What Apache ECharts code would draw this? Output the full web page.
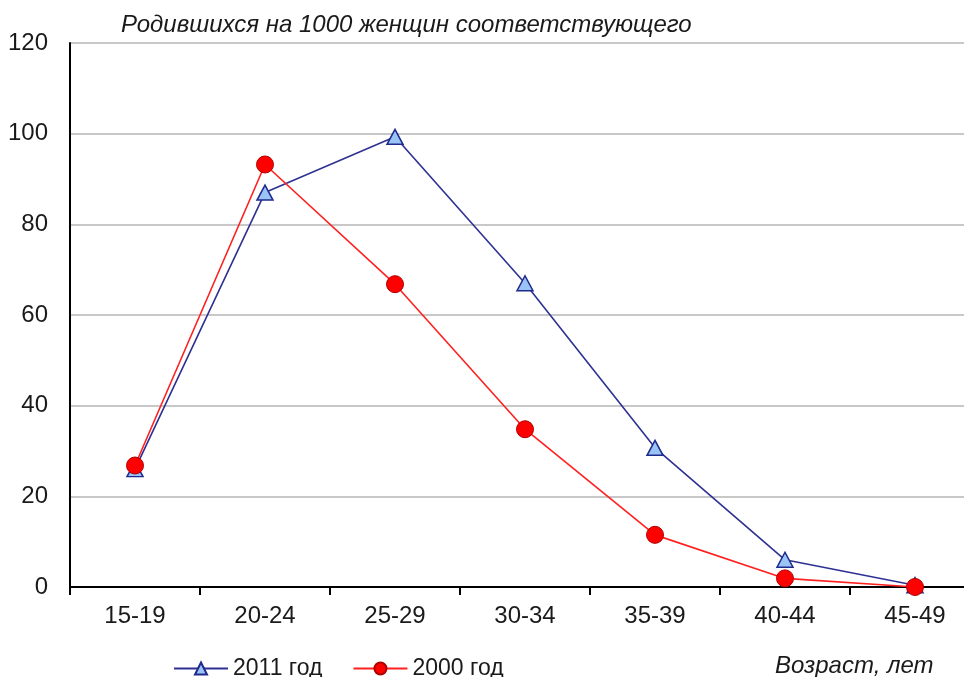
<!DOCTYPE html>
<html>
<head>
<meta charset="utf-8">
<script src="https://cdn.jsdelivr.net/npm/echarts@6/dist/echarts.min.js"></script>
<style>
  html, body { margin: 0; padding: 0; background: #fff; }
  #chart { width: 964px; height: 677px; }
</style>
</head>
<body>
<div id="chart"></div>
<script>
const ageGroups = ['15-19', '20-24', '25-29', '30-34', '35-39', '40-44', '45-49'];
const births2011 = [26, 87, 99.3, 67, 30.7, 6, 0.4];
const births2000 = [26.8, 93.2, 66.8, 34.8, 11.5, 1.9, 0];
const seriesNames = ['2011 год', '2000 год'];

const myChart = echarts.init(document.getElementById('chart'));

const labelFont = 'Liberation Sans, Arial, sans-serif';

const option = {
    backgroundColor: '#ffffff',
    animation: false,
    title: [
        {
            text: 'Родившихся на 1000 женщин соответствующего',
            left: 116,
            top: 8,
            textStyle: {
                fontFamily: labelFont,
                fontStyle: 'italic',
                fontWeight: 'normal',
                fontSize: 24,
                color: '#1a1a1a'
            }
        },
        {
            text: 'Возраст, лет',
            left: 770,
            top: 649,
            textStyle: {
                fontFamily: labelFont,
                fontStyle: 'italic',
                fontWeight: 'normal',
                fontSize: 24,
                color: '#1a1a1a'
            }
        }
    ],
    legend: {
        data: seriesNames,
        left: 168,
        top: 652,
        itemWidth: 54,
        itemHeight: 15,
        itemGap: 30,
        textStyle: {
            fontFamily: labelFont,
            fontSize: 23,
            color: '#1a1a1a'
        }
    },
    grid: {
        left: 70,
        width: 910,
        top: 43,
        bottom: 90,
        containLabel: false,
        outerBoundsMode: 'none'
    },
    xAxis: {
        type: 'category',
        data: ageGroups,
        boundaryGap: true,
        axisLine: { lineStyle: { color: '#000', width: 2 } },
        axisTick: { show: true, length: 8, lineStyle: { color: '#000', width: 2 } },
        axisLabel: {
            fontFamily: labelFont,
            fontSize: 24,
            color: '#1a1a1a',
            margin: 17
        },
        splitLine: { show: false }
    },
    yAxis: {
        type: 'value',
        min: 0,
        max: 120,
        interval: 20,
        axisLine: { show: true, lineStyle: { color: '#000', width: 2 } },
        axisTick: { show: false },
        axisLabel: {
            fontFamily: labelFont,
            fontSize: 24,
            color: '#1a1a1a',
            margin: 22
        },
        splitLine: {
            show: true,
            lineStyle: { color: '#c8c8c8', width: 2 }
        }
    },
    series: [
        {
            name: seriesNames[0],
            type: 'line',
            data: births2011,
            symbol: 'triangle',
            symbolSize: [16, 15],
            lineStyle: { color: '#2e3192', width: 1.6 },
            itemStyle: { color: '#99c4f5', borderColor: '#1f2a8c', borderWidth: 1.5 },
            z: 2
        },
        {
            name: seriesNames[1],
            type: 'line',
            data: births2000,
            symbol: 'circle',
            symbolSize: 17,
            lineStyle: { color: '#ff2020', width: 1.6 },
            itemStyle: { color: '#ff0000', borderColor: '#b00000', borderWidth: 1 },
            z: 3
        }
    ]
};

myChart.setOption(option);
</script>
</body>
</html>
